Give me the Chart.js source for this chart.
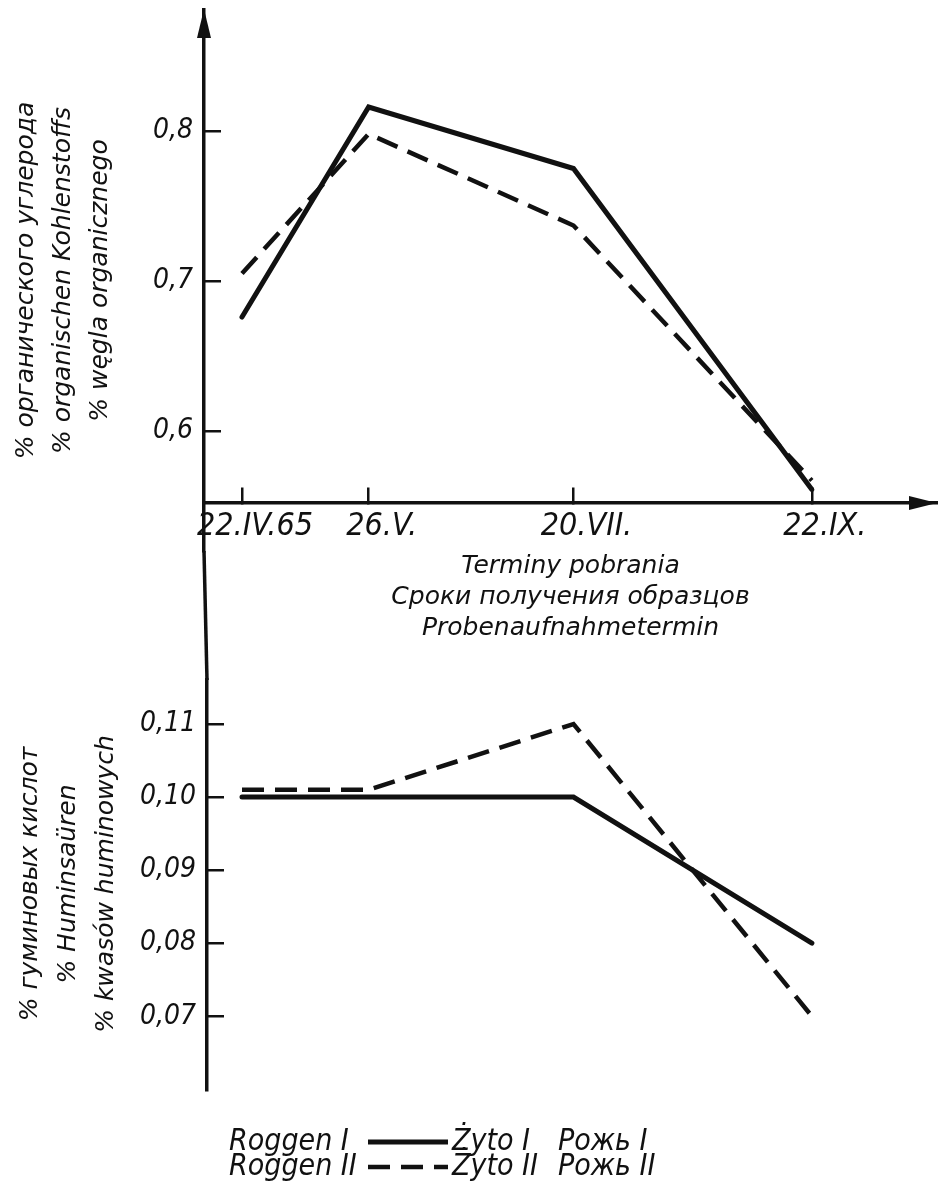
<!DOCTYPE html>
<html><head><meta charset="utf-8">
<script src="https://cdn.jsdelivr.net/npm/chart.js@4.4.1/dist/chart.umd.min.js"></script>
<style>
html,body{margin:0;padding:0;background:#fff;}
#wrap{position:relative;width:938px;height:1184px;overflow:hidden;background:#fff;}
canvas{position:absolute;left:0;}
#top{top:0;}
#bot{top:678px;}
</style></head><body>
<div id="wrap"><canvas id="bot" width="938" height="506"></canvas><canvas id="top" width="938" height="680"></canvas></div>
<script>
// ---- data ----
const dateLabels = ['22.IV.65', '26.V.', '20.VII.', '22.IX.'];
const dayOfYear = [112, 146, 201, 265];           // sampling dates 1965 (day of year)
const carbonRyeI = [0.676, 0.816, 0.775, 0.561];  // % organic carbon, Rye I
const carbonRyeII = [0.705, 0.798, 0.737, 0.567]; // % organic carbon, Rye II
const humicRyeI = [0.100, 0.100, 0.100, 0.080];   // % humic acids, Rye I
const humicRyeII = [0.101, 0.101, 0.110, 0.070];  // % humic acids, Rye II
const carbonTicks = [0.6, 0.7, 0.8];
const humicTicks = [0.07, 0.08, 0.09, 0.10, 0.11];
const seriesDe = ['Roggen I', 'Roggen II'];
const seriesPl = ['Żyto I', 'Żyto II'];
const seriesRu = ['Рожь I', 'Рожь II'];
const carbonTitle = ['% органического углерода', '% organischen Kohlenstoffs', '% węgla organicznego'];
const humicTitle = ['% гуминовых кислот', '% Huminsaüren', '% kwasów huminowych'];
const xTitle = ['Terminy pobrania', 'Сроки получения образцов', 'Probenaufnahmetermin'];

// ---- style ----
const INK = '#111';
const NARROW = "'Liberation Sans Narrow', 'DejaVu Sans Condensed', 'Liberation Sans', sans-serif";
const WIDE = "'DejaVu Sans', sans-serif";
const solidStyle = {borderColor: INK, borderWidth: 5, pointRadius: 0, tension: 0, borderJoinStyle: 'miter', borderCapStyle: 'round', fill: false};
const dashStyle = {borderColor: INK, borderWidth: 4.5, pointRadius: 0, tension: 0, borderJoinStyle: 'miter', borderCapStyle: 'butt', borderDash: [22, 11], fill: false};
const pts = (vals) => dayOfYear.map((d, i) => ({x: d, y: vals[i]}));
const noPad = (s) => { s.paddingTop = 0; s.paddingBottom = 0; s.paddingLeft = 0; s.paddingRight = 0; };

const axisDeco = {
  id: 'axisDeco',
  afterDraw(chart, args, o) {
    const {ctx, chartArea: {left, top, right, bottom}} = chart;
    ctx.save();
    ctx.fillStyle = INK; ctx.strokeStyle = INK;
    if (o.upArrow) {
      ctx.beginPath();
      ctx.moveTo(left, top - 1); ctx.lineTo(left - 7, top + 28); ctx.lineTo(left + 7, top + 28); ctx.closePath(); ctx.fill();
    }
    if (o.rightArrowAt !== undefined) {
      const y = chart.scales.y.getPixelForValue(o.rightArrowAt);
      ctx.beginPath();
      ctx.moveTo(right, y); ctx.lineTo(right - 28, y - 7); ctx.lineTo(right - 28, y + 7); ctx.closePath(); ctx.fill();
    }
    if (o.extendToX !== undefined) {
      ctx.lineWidth = 3.5;
      ctx.beginPath(); ctx.moveTo(left, bottom); ctx.lineTo(o.extendToX, chart.height); ctx.stroke();
    }
    if (o.legend) {
      const L = o.legend;
      ctx.font = 'italic ' + L.size + 'px ' + NARROW;
      ctx.textBaseline = 'middle'; ctx.textAlign = 'left';
      chart.data.datasets.forEach((ds, i) => {
        const y = L.rows[i];
        ctx.fillText(seriesDe[i], L.x0, y);
        ctx.fillText(seriesPl[i], L.x2, y);
        ctx.fillText(seriesRu[i], L.x3, y);
        ctx.save();
        ctx.lineWidth = ds.borderWidth;
        ctx.setLineDash(ds.borderDash || []);
        ctx.beginPath(); ctx.moveTo(L.l0, y); ctx.lineTo(L.l1, y); ctx.stroke();
        ctx.restore();
      });
    }
    ctx.restore();
  }
};

const tickFont = (s) => ({family: NARROW, size: s, style: 'italic', weight: 'normal'});
const titleFont = (lh) => ({family: WIDE, size: 25, style: 'italic', weight: 'normal', lineHeight: lh});

new Chart(document.getElementById('top'), {
  type: 'line',
  data: {datasets: [
    Object.assign({label: seriesDe[0], data: pts(carbonRyeI)}, solidStyle),
    Object.assign({label: seriesDe[1], data: pts(carbonRyeII)}, dashStyle)
  ]},
  options: {
    responsive: false, animation: false, devicePixelRatio: 1,
    layout: {autoPadding: false, padding: {top: 10, left: 0, right: 1, bottom: 36}},
    plugins: {
      legend: {display: false}, tooltip: {enabled: false},
      title: {display: true, position: 'bottom', fullSize: false, text: xTitle, color: INK, font: titleFont('31px'), padding: 0},
      axisDeco: {upArrow: true, rightArrowAt: 0.552, extendToX: 207}
    },
    scales: {
      x: {
        type: 'linear', min: 101.8, max: 298.6, position: {y: 0.552},
        afterFit: noPad,
        afterBuildTicks: (s) => { s.ticks = dayOfYear.map(v => ({value: v})); },
        ticks: {autoSkip: false, maxRotation: 0, padding: 21, labelOffset: 13, color: INK, font: tickFont(32), callback: (v, i) => dateLabels[i]},
        grid: {drawOnChartArea: false, tickLength: -17, lineWidth: 2.5, color: INK},
        border: {color: INK, width: 3.5}
      },
      y: {
        type: 'linear', position: 'left', min: 0.52, max: 0.88067,
        afterFit: (s) => { s.width = 204; noPad(s); },
        afterBuildTicks: (s) => { s.ticks = carbonTicks.map(v => ({value: v})); },
        ticks: {padding: 28, color: INK, font: tickFont(28), callback: (v) => v.toFixed(1).replace('.', ',')},
        grid: {drawOnChartArea: false, tickLength: -17, lineWidth: 2.5, color: INK},
        border: {color: INK, width: 3.5},
        title: {display: true, text: carbonTitle, color: INK, font: titleFont('37px'), padding: {top: 7.5, bottom: 0}}
      }
    }
  },
  plugins: [axisDeco]
});

new Chart(document.getElementById('bot'), {
  type: 'line',
  data: {datasets: [
    Object.assign({label: seriesDe[0], data: pts(humicRyeI)}, solidStyle),
    Object.assign({label: seriesDe[1], data: pts(humicRyeII)}, dashStyle)
  ]},
  options: {
    responsive: false, animation: false, devicePixelRatio: 1,
    layout: {autoPadding: false, padding: {top: 0, left: 0, right: 1, bottom: 94}},
    plugins: {
      legend: {display: false}, tooltip: {enabled: false},
      axisDeco: {legend: {size: 30, rows: [464, 489], x0: 229, l0: 368, l1: 448, x2: 452, x3: 558}}
    },
    scales: {
      x: {type: 'linear', min: 102.6, max: 298.6, display: false},
      y: {
        type: 'linear', position: 'left', min: 0.0599, max: 0.1163,
        afterFit: (s) => { s.width = 207; noPad(s); },
        afterBuildTicks: (s) => { s.ticks = humicTicks.map(v => ({value: v})); },
        ticks: {padding: 28, color: INK, font: tickFont(28), callback: (v) => v.toFixed(2).replace('.', ',')},
        grid: {drawOnChartArea: false, tickLength: -17, lineWidth: 2.5, color: INK},
        border: {color: INK, width: 3.5},
        title: {display: true, text: humicTitle, color: INK, font: titleFont('38px'), padding: {top: 11, bottom: 0}}
      }
    }
  },
  plugins: [axisDeco]
});
</script>
</body></html>
